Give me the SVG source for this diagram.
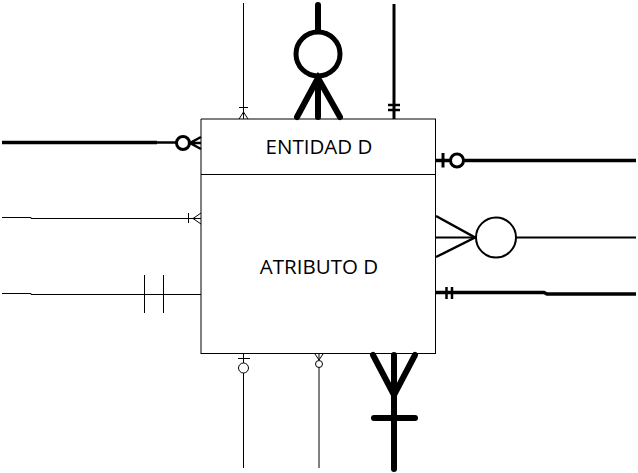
<svg xmlns="http://www.w3.org/2000/svg" width="638" height="473" viewBox="0 0 638 473">
<style>
.bx{fill:none;stroke:#000;stroke-width:1}
.t{font-family:"Open Sans","Liberation Sans",sans-serif;font-size:20.5px;fill:#000;text-anchor:middle}
.c1{fill:none;stroke:#000;stroke-width:1}
.c2{fill:none;stroke:#000;stroke-width:2}
.c3{fill:none;stroke:#000;stroke-width:3.5}
.c6{fill:none;stroke:#000;stroke-width:6;stroke-linecap:round}
.w{fill:#fff}
</style>
<rect width="638" height="473" fill="#fff"/>
<g id="connectors">
  <g id="top1">
    <line class="c1" x1="243.5" y1="3" x2="243.5" y2="119"/>
    <line class="c1" x1="239" y1="107.5" x2="248" y2="107.5"/>
    <path class="c1" d="M239,119 L243.5,112 L248,119"/>
  </g>
  <g id="top2">
    <line class="c6" x1="318" y1="5" x2="318" y2="31"/>
    <circle class="c6 w" cx="318" cy="54" r="22" style="stroke-width:5"/>
    <path class="c6" d="M297,117 L318,78 L340,117 M318,78 L318,117"/>
  </g>
  <g id="top3">
    <line class="c3" x1="394" y1="4" x2="394" y2="119" style="stroke-width:3"/>
    <line class="c3" x1="388" y1="105" x2="400" y2="105" style="stroke-width:2.5"/>
    <line class="c3" x1="388" y1="110" x2="400" y2="110" style="stroke-width:2.5"/>
  </g>
  <g id="left1">
    <line class="c3" x1="2" y1="142.5" x2="157" y2="142.5"/>
    <line class="c3" x1="156" y1="142.5" x2="177" y2="142.5" style="stroke-width:2.5"/>
    <circle class="c3 w" cx="183" cy="143" r="6.5" style="stroke-width:3"/>
    <path class="c3" d="M201,137 L190,143 L201,149 M190,143 L201,143" style="stroke-width:2.5"/>
  </g>
  <g id="left2">
    <path class="c1" d="M2,217.5 H31 V218.5 H201"/>
    <line class="c1" x1="188.5" y1="213" x2="188.5" y2="223"/>
    <path class="c1" d="M201,213 L193,218.5 L201,224"/>
  </g>
  <g id="left3">
    <path class="c1" d="M2,293.5 H31 V294.5 H201"/>
    <line class="c1" x1="144.5" y1="275" x2="144.5" y2="313"/>
    <line class="c1" x1="163.5" y1="275" x2="163.5" y2="313"/>
  </g>
  <g id="right1">
    <line class="c3" x1="436" y1="160.5" x2="636" y2="160.5"/>
    <line class="c3" x1="443" y1="153" x2="443" y2="167.5" style="stroke-width:3"/>
    <circle class="c3 w" cx="457" cy="160.5" r="6.5" style="stroke-width:3"/>
  </g>
  <g id="right2">
    <line class="c2" x1="436" y1="237.5" x2="636" y2="237.5"/>
    <path class="c2" d="M436,216 L475,237.5 L436,257" style="stroke-width:2.5"/>
    <circle class="c2 w" cx="496" cy="237.5" r="20"/>
  </g>
  <g id="right3">
    <path class="c3" d="M436,292.5 H544 L547,294 H636"/>
    <line class="c3" x1="446.5" y1="287" x2="446.5" y2="299" style="stroke-width:2.5"/>
    <line class="c3" x1="452" y1="287" x2="452" y2="299" style="stroke-width:2.5"/>
  </g>
  <g id="bottom1">
    <line class="c1" x1="243.5" y1="354" x2="243.5" y2="363"/>
    <line class="c1" x1="238" y1="358.5" x2="250" y2="358.5"/>
    <circle class="c1 w" cx="243.5" cy="368" r="5"/>
    <line class="c1" x1="243.5" y1="373" x2="243.5" y2="468"/>
  </g>
  <g id="bottom2">
    <path class="c1" d="M315,354 L319,360 L323,354 M319,354 L319,360"/>
    <circle class="c1 w" cx="319" cy="364" r="3.5"/>
    <line class="c1" x1="319" y1="367.5" x2="319" y2="468"/>
  </g>
  <g id="bottom3">
    <path class="c6" d="M394,355 L394,469 M373,355 L394,395 L415,355 M374,418 L415,418"/>
  </g>
</g>
<g id="entidad-d">
  <line class="bx" x1="201" y1="119" x2="201" y2="354"/>
  <line class="bx" x1="201" y1="119" x2="436" y2="119"/>
  <line class="bx" x1="435.5" y1="119" x2="435.5" y2="354"/>
  <line class="bx" x1="201" y1="353.5" x2="436" y2="353.5"/>
  <line class="bx" x1="201" y1="174.5" x2="436" y2="174.5"/>
  <text class="t" x="319" y="154">ENTIDAD D</text>
  <text class="t" x="319" y="274">ATRIBUTO D</text>
</g>
</svg>
